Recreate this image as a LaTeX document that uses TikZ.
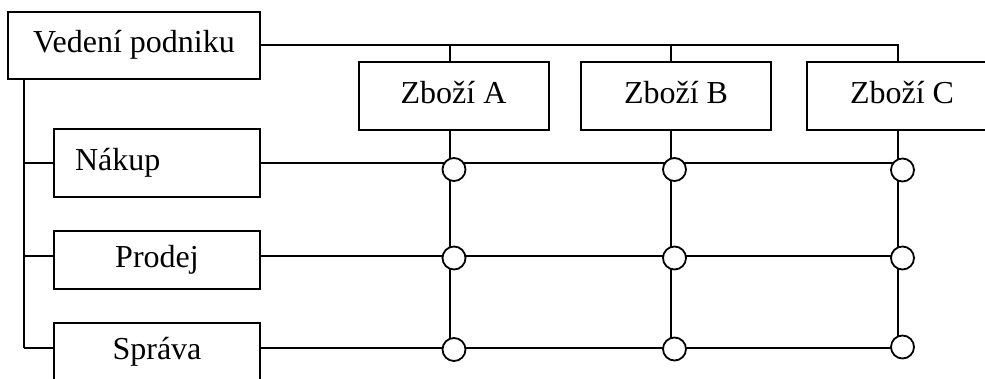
\documentclass[tikz,border=0pt]{standalone}
\usepackage{fontspec}
\setmainfont{Liberation Serif}
\begin{document}
\begin{tikzpicture}[x=1pt,y=-1pt,
  line width=2pt,
  box/.style={draw, fill=white, inner sep=0pt, text height=21pt, text depth=7pt,
    font=\fontsize{32}{36}\selectfont},
  dept/.style={box, minimum width=206pt},
  ware/.style={box, minimum width=190pt, minimum height=68pt},
  knot/.style={draw, circle, fill=white, minimum size=23pt, inner sep=0pt, line width=1.8pt}
]
\clip (0,0) rectangle (985,378);
\fill[white] (0,0) rectangle (985,378);

% boxes
\node[box, minimum width=252pt, minimum height=67pt] (ved) at (134,45.5) {Vedení podniku};
\node[dept, minimum height=68pt, text width=164pt, align=left] (nak) at (157,163) {Nákup};
\node[dept, minimum height=58pt] (pro) at (157,260) {Prodej};
\node[dept, minimum height=58pt] (spr) at (157,352) {Správa};
\node[ware] (za) at (453.5,96) {Zboží A};
\node[ware] (zb) at (676,96) {Zboží B};
\node[ware] (zc) at (902,96) {Zboží C};

% junctions
\coordinate (tA) at (450,45);
\coordinate (tB) at (671,45);
\coordinate (tC) at (898,45);
\coordinate (nA) at (450,163); \coordinate (nB) at (671,163); \coordinate (nC) at (898,163);
\coordinate (pA) at (450,256); \coordinate (pB) at (671,256); \coordinate (pC) at (898,256);
\coordinate (sA) at (450,348); \coordinate (sB) at (671,348); \coordinate (sC) at (898,348);
\coordinate (lt) at (24,79);
\coordinate (ln) at (24,163);
\coordinate (lp) at (24,256);
\coordinate (ls) at (24,348);

% top management connectors
\draw (ved.east |- tA) -- (tC) -- (tC |- zc.north);
\draw (tA) -- (tA |- za.north);
\draw (tB) -- (tB |- zb.north);

% left spine
\draw (lt) -- (ls);
\draw (ln) -- (nak.west |- ln);
\draw (lp) -- (pro.west |- lp);
\draw (ls) -- (spr.west |- ls);

% vertical lines of goods
\draw (nA |- za.south) -- (sA);
\draw (nB |- zb.south) -- (sB);
\draw (nC |- zc.south) -- (sC);

% row lines
\draw (nak.east |- nA) -- (nC);
\draw (pro.east |- pA) -- (pC);
\draw (spr.east |- sA) -- (sC);

% knots
\node[knot] (kNA) at (454,169.5) {};
\node[knot] (kNB) at (674.5,169.5) {};
\node[knot] (kNC) at (902.5,170) {};
\node[knot] (kPA) at (454,258) {};
\node[knot] (kPB) at (674.5,258) {};
\node[knot] (kPC) at (902.5,258) {};
\node[knot] (kSA) at (454,349.5) {};
\node[knot] (kSB) at (674.5,349) {};
\node[knot] (kSC) at (902.5,347) {};
\end{tikzpicture}
\end{document}
